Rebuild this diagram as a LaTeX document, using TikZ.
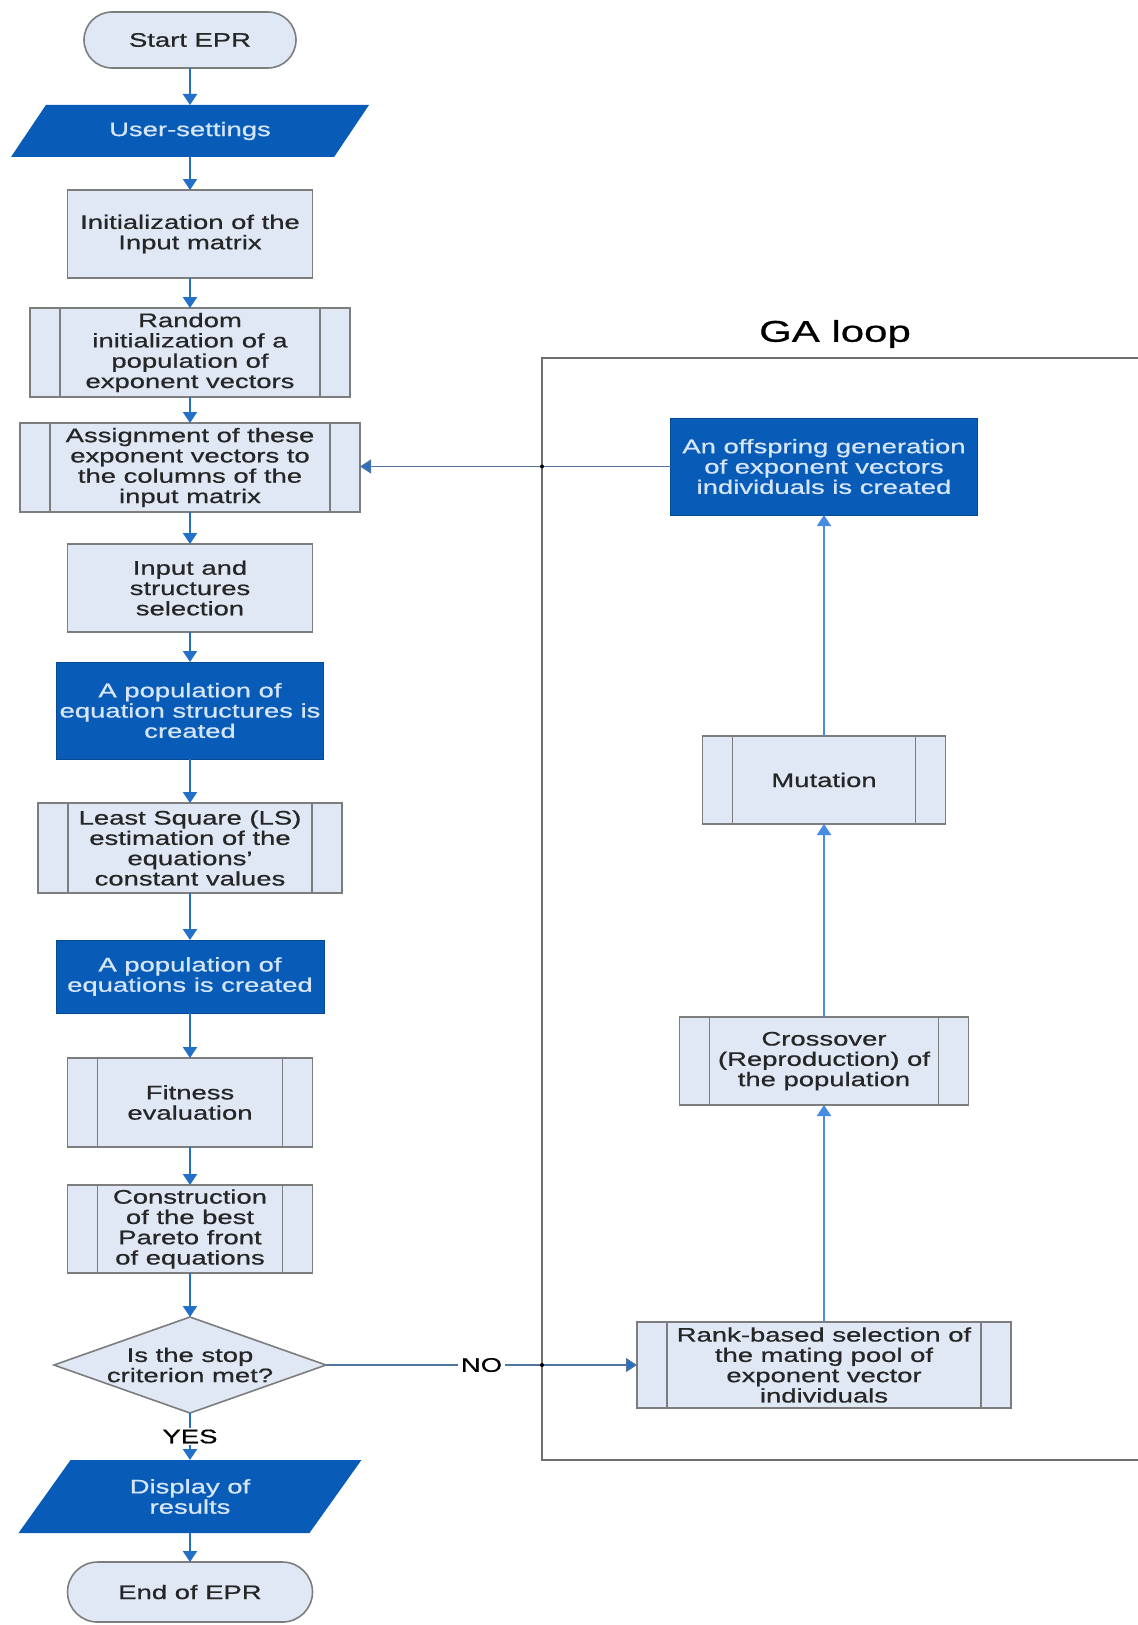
\documentclass[tikz,border=0pt]{standalone}
\usepackage{fontspec}
\setmainfont[FakeStretch=1.40, FakeBold=0.7]{Liberation Sans}
\usetikzlibrary{positioning}
\usetikzlibrary{shapes.geometric}
\usetikzlibrary{arrows.meta}
\definecolor{boxfill}{RGB}{223,232,244}
\definecolor{boxedge}{RGB}{125,125,125}
\definecolor{deepblue}{RGB}{8,92,184}
\definecolor{paletext}{RGB}{214,230,248}
\definecolor{flowblue}{RGB}{34,112,200}
\definecolor{loopblue}{RGB}{70,140,225}
\definecolor{thinblue}{RGB}{80,115,160}
\definecolor{framegray}{RGB}{110,110,110}
\tikzset{
    every node/.style={
        font=\fontsize{9.8}{10.15}\selectfont,
        align=center},
    proc/.style={
        draw=boxedge,
        line width=0.8pt,
        fill=boxfill,
        text=black!85,
        inner sep=1pt,
        outer sep=0pt,
        minimum height=44pt},
    subproc/.style={
        proc,
        path picture={
            \draw[boxedge, line width=0.8pt]
                ([xshift=15pt]path picture bounding box.north west) -- ([xshift=15pt]path picture bounding box.south west)
                ([xshift=-15pt]path picture bounding box.north east) -- ([xshift=-15pt]path picture bounding box.south east);}},
    result/.style={
        draw=deepblue!80!black,
        fill=deepblue,
        text=paletext,
        inner sep=1pt,
        outer sep=0pt},
    terminal/.style={
        draw=boxedge,
        line width=0.8pt,
        fill=boxfill,
        text=black!85,
        rounded corners=14pt,
        outer sep=0pt,
        minimum height=28pt},
    io/.style={
        trapezium,
        trapezium stretches=true,
        fill=deepblue,
        text=paletext,
        inner sep=1pt,
        outer sep=0pt},
    decision/.style={
        diamond,
        aspect=2.83,
        draw=boxedge,
        line width=0.8pt,
        fill=boxfill,
        text=black!85,
        inner sep=0pt,
        outer sep=0pt,
        minimum width=136pt,
        minimum height=48pt},
    flow/.style={
        draw=flowblue,
        line width=1pt,
        -{Triangle[width=7pt,length=5.5pt]}},
    upflow/.style={
        draw=loopblue,
        line width=1pt,
        -{Triangle[width=7pt,length=5.5pt]}},
    thinflow/.style={
        draw=thinblue,
        line width=0.7pt,
        -{Triangle[width=7pt,length=5.5pt,fill=flowblue]}},
    gatitle/.style={
        font=\fontsize{15}{17}\selectfont}}

\begin{document}
\begin{tikzpicture}[x=1pt, y=-1pt]
    \fill[white] (0,0) rectangle (569,812.5);
    \useasboundingbox (0,0) rectangle (569,812.5);

    % main column
    \node[terminal, minimum width=106pt] (start) at (95,20) {Start EPR};
    \node[io, below=18.5pt of start, minimum width=179pt, minimum height=26pt,
        trapezium left angle=48, trapezium right angle=132] (user) {User-settings};
    \node[proc, below=16.5pt of user, minimum width=122.5pt] (init) {Initialization of the\\Input matrix};
    \node[subproc, below=15pt of init, minimum width=160pt, minimum height=44.5pt] (random) {Random\\initialization of a\\population of\\exponent vectors};
    \node[subproc, below=13pt of random, minimum width=170pt, minimum height=44.5pt] (assign) {Assignment of these\\exponent vectors to\\the columns of the\\input matrix};
    \node[proc, below=16pt of assign, minimum width=122.5pt] (select) {Input and\\structures\\selection};
    \node[result, below=15pt of select, minimum width=133.5pt, minimum height=48.5pt] (popstruct) {A population of\\equation structures is\\created};
    \node[subproc, below=22pt of popstruct, minimum width=152pt, minimum height=45pt] (lsq) {Least Square (LS)\\estimation of the\\equations'\\constant values};
    \node[result, below=23.5pt of lsq, minimum width=134pt, minimum height=36.5pt] (popeq) {A population of\\equations is created};
    \node[subproc, below=22.5pt of popeq, minimum width=122.5pt, minimum height=44.5pt] (fitness) {Fitness\\evaluation};
    \node[subproc, below=19pt of fitness, minimum width=122.5pt] (pareto) {Construction\\of the best\\Pareto front\\of equations};
    \node[decision, below=22pt of pareto] (stop) {Is the stop\\criterion met?};
    \node[io, below=23.5pt of stop, minimum width=173pt, minimum height=36.5pt,
        trapezium left angle=55, trapezium right angle=125] (display) {Display of\\results};
    \node[terminal, below=14.5pt of display, minimum width=122.5pt, minimum height=30pt, rounded corners=15pt] (finish) {End of EPR};

    % GA loop
    \node[subproc, right=155.5pt of stop, minimum width=187pt, minimum height=43pt] (rank) {Rank-based selection of\\the mating pool of\\exponent vector\\individuals};
    \node[subproc, above=108.5pt of rank, minimum width=144.5pt] (cross) {Crossover\\(Reproduction) of\\the population};
    \node[subproc, above=96.5pt of cross, minimum width=121.5pt] (mutation) {Mutation};
    \node[result, above=110.5pt of mutation, minimum width=153.5pt, minimum height=48.5pt] (offspring) {An offspring generation\\of exponent vectors\\individuals is created};

    \coordinate (gaNW) at (271,179);
    \coordinate (gaSW) at (271,730);
    \draw[framegray, line width=0.8pt] (569,179) -- (gaNW) -- (gaSW) -- (569,730);
    \node[gatitle] (ga) at (417.5,167) {GA loop};

    \draw[flow] (start.south) -- (user.north);
    \draw[flow] (user.south) -- (init.north);
    \draw[flow] (init.south) -- (random.north);
    \draw[flow] (random.south) -- (assign.north);
    \draw[flow] (assign.south) -- (select.north);
    \draw[flow] (select.south) -- (popstruct.north);
    \draw[flow] (popstruct.south) -- (lsq.north);
    \draw[flow] (lsq.south) -- (popeq.north);
    \draw[flow] (popeq.south) -- (fitness.north);
    \draw[flow] (fitness.south) -- (pareto.north);
    \draw[flow] (pareto.south) -- (stop.north);
    \draw[flow] (stop.south) -- node[fill=white, inner sep=1pt] {YES} (display.north);
    \draw[flow] (display.south) -- (finish.north);

    \draw[thinflow] (stop.east) -- node[fill=white, inner sep=1.5pt] {NO} (rank.west);
    \draw[upflow] (rank.north) -- (cross.south);
    \draw[upflow] (cross.north) -- (mutation.south);
    \draw[upflow] (mutation.north) -- (offspring.south);
    \draw[thinflow] (offspring.west) -- (offspring.west -| assign.east);

    \fill (gaNW |- offspring.west) circle (1pt);
    \fill (gaNW |- rank.west) circle (1pt);
\end{tikzpicture}
\end{document}
